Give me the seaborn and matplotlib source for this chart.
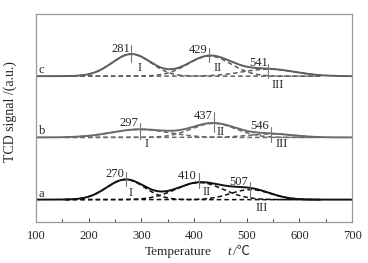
import numpy as np
import pandas as pd
import matplotlib
matplotlib.use("Agg")
import matplotlib.pyplot as plt
import seaborn as sns

# Fitted H2-TPR peaks (component centers in °C, heights and widths in a.u.)
samples = ["a", "b", "c"]
baselines = [22, 84, 145]
centers = {"a": [270, 410, 507], "b": [297, 437, 546], "c": [281, 429, 541]}
heights = {"a": [20, 17, 10], "b": [8, 14, 3.5], "c": [22, 20, 7]}
widths = {"a": [36, 45, 38], "b": [54, 42, 42], "c": [37, 41, 50]}
colors = {"a": "#111111", "b": "#6a6a6a", "c": "#5e5e5e"}
peak_names = ["I", "II", "III"]
peak_labels = {"a": ["270", "410", "507"], "b": ["297", "437", "546"], "c": ["281", "429", "541"]}
# annotation offsets relative to each baseline (text pos, marker extents, roman pos)
label_xy = {"a": [(249, 26), (387, 24), (485, 18)],
            "b": [(277, 14), (418, 21), (524, 11)],
            "c": [(260, 27), (407, 26), (523, 13)]}
marker_span = {"a": [(14, 28), (12, 27), (1, 18)],
               "b": [(-2, 14), (5, 25), (-5, 10)],
               "c": [(14, 31), (14, 28), (-2, 12)]}
roman_xy = {"a": [(280, 7), (424, 8), (529, -8)],
            "b": [(310, -7), (451, 5), (567, -7)],
            "c": [(296, 8), (444, 8), (559, -9)]}
xticks = [100, 200, 300, 400, 500, 600, 700]

sns.set_theme(style="white")
plt.rcParams["font.family"] = ["Liberation Serif", "DejaVu Serif"]
FS = 9

fig = plt.figure(figsize=(3.68, 2.63), dpi=100)
ax = fig.add_axes([0.098, 0.157, 0.859, 0.790])

t_full = np.linspace(100, 700, 601)
t_comp = np.linspace(155, 640, 486)

def gauss(t, c, h, w):
    return h * np.exp(-0.5 * ((t - c) / w) ** 2)

for s, base in zip(samples, baselines):
    col = colors[s]
    total = np.full_like(t_full, base, dtype=float)
    for c, h, w in zip(centers[s], heights[s], widths[s]):
        total += gauss(t_full, c, h, w)
        comp = base + gauss(t_comp, c, h, w)
        sns.lineplot(x=t_comp, y=comp, ax=ax, color=col, lw=1.1,
                     linestyle=(0, (3, 2)), sort=False)
    sns.lineplot(x=t_full, y=total, ax=ax, color=col, lw=1.4, sort=False)
    ax.text(105, base + 6, s, fontsize=FS, ha="left", va="center")
    for i in range(3):
        c = centers[s][i]
        lo, hi = marker_span[s][i]
        ax.plot([c, c], [base + lo, base + hi], color="#777777", lw=0.8)
        lx, ly = label_xy[s][i]
        ax.text(lx, base + ly, peak_labels[s][i], fontsize=FS, ha="center", va="center")
        rx, ry = roman_xy[s][i]
        ax.text(rx, base + ry, peak_names[i], fontsize=FS, ha="center", va="center")

ax.set_xlim(100, 700)
ax.set_ylim(0, 207)
ax.set_xticks(xticks)
ax.set_xticklabels([str(v) for v in xticks], fontsize=FS)
ax.set_xticks(np.arange(150, 700, 100), minor=True)
ax.set_yticks([])
ax.tick_params(axis="x", which="major", direction="in", length=3, width=0.7, color="#444444", pad=6)
ax.tick_params(axis="x", which="minor", direction="in", length=2, width=0.7, color="#444444")
ax.tick_params(axis="x", which="both", bottom=True, top=False)
for sp in ax.spines.values():
    sp.set_color("#999999")
    sp.set_linewidth(0.9)
ax.set_xlabel("")
ax.set_ylabel("TCD signal /(a.u.)", fontsize=10)
ax.yaxis.set_label_coords(-0.06, 0.53)
fig.text(0.484, 0.042, "Temperature", fontsize=9.5, ha="center", va="center")
fig.text(0.617, 0.042, "t", fontsize=9.5, style="italic", ha="left", va="center")
fig.text(0.632, 0.042, "/℃", fontsize=9.5, ha="left", va="center",
         family=["Liberation Serif", "Noto Sans CJK SC", "DejaVu Sans"])

fig.savefig("out.png", dpi=100)
